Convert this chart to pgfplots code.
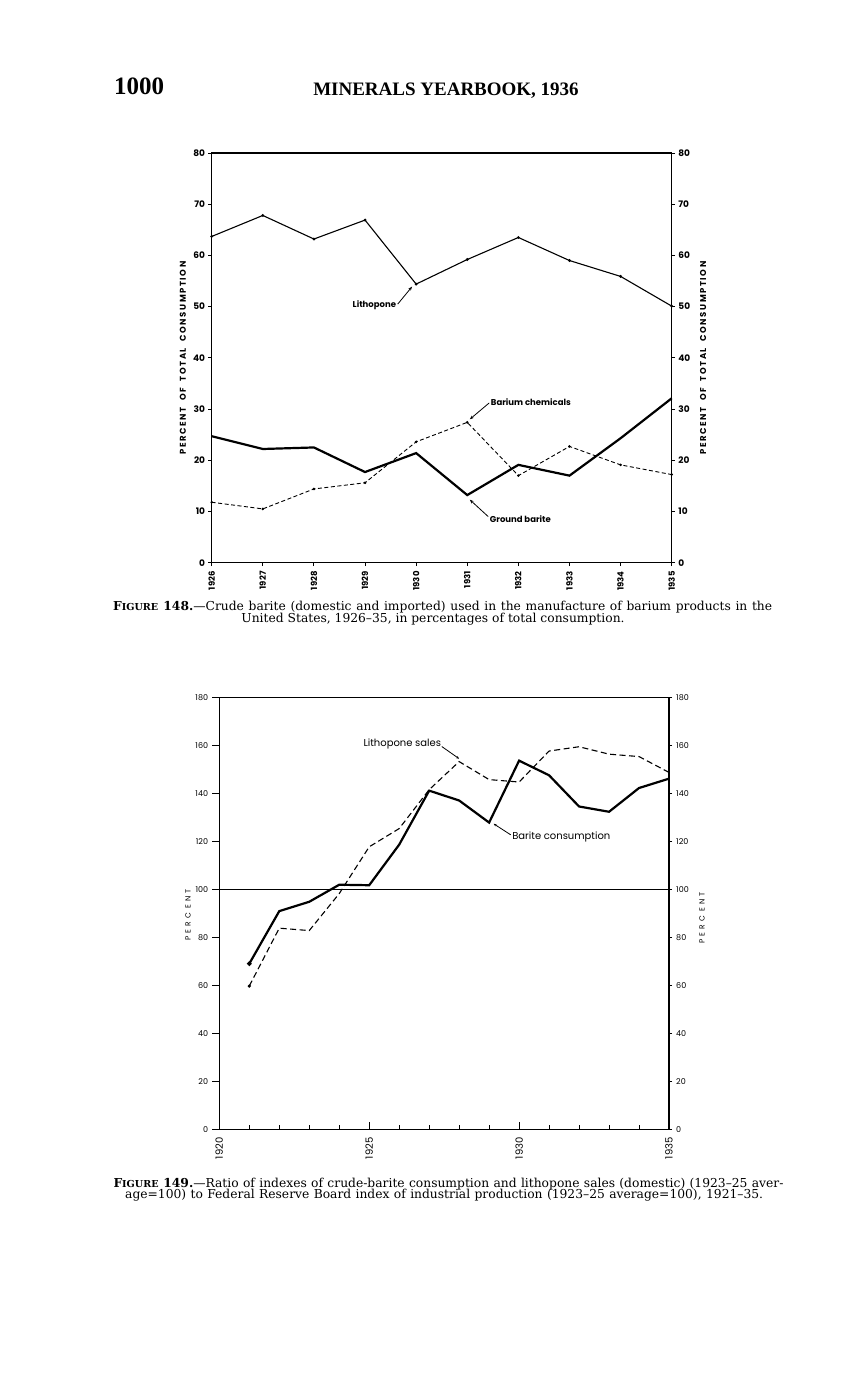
\documentclass[border=0pt]{standalone}
\usepackage{pgfplots}
\pgfplotsset{compat=1.18}
\usetikzlibrary{arrows.meta}
\usepackage{fontspec}
\setmainfont{Liberation Serif}
\newfontfamily\capfont[Ligatures=TeX]{DejaVu Serif}
\newfontfamily\lett{Poppins}
\newfontfamily\lettsp[LetterSpace=18]{Poppins}
\newfontfamily\lettwide[LetterSpace=45]{Poppins}
\newcommand\cf[1]{\lett\fontsize{#1}{#1}\selectfont}

\begin{document}
\begin{tikzpicture}[x=1pt,y=1pt]
\path[use as bounding box, fill=white] (0,0) rectangle (866,1380);

% page header
\node[anchor=base west, inner sep=0] at (114,1285) {\fontsize{25}{25}\selectfont\bfseries 1000};
\node[anchor=base, inner sep=0] at (446,1284) {\fontsize{19}{19}\selectfont\bfseries MINERALS YEARBOOK, 1936};

% ---------- Figure 148 ----------
\begin{axis}[
  at={(211.7pt,817.3pt)}, anchor=south west,
  scale only axis, width=460pt, height=409.7pt,
  xmin=1926, xmax=1935, ymin=0, ymax=80,
  xtick={1926,...,1935}, ytick={0,10,...,80},
  axis line style={line width=1.3pt},
  tick style={line width=0.9pt, black},
  tick align=outside, major tick length=3.5pt,
  xtick pos=bottom, ytick pos=left,
  xticklabel style={rotate=90, anchor=east, inner sep=0pt, font=\cf{8.5}\bfseries},
  xticklabel shift=5pt,
  yticklabel style={inner sep=0pt, font=\cf{9}\bfseries},
  yticklabel shift=3pt,
  /pgf/number format/1000 sep={},
  /pgf/number format/assume math mode=true,
  clip=false,
]
\addplot[line width=1.1pt, mark=*, mark size=0.8pt] coordinates {(1926,63.7)(1927,67.8)(1928,63.2)(1929,66.9)(1930,54.4)(1931,59.2)(1932,63.5)(1933,59.0)(1934,55.9)(1935,50.1)};
\addplot[line width=2.2pt] coordinates {(1926,24.7)(1927,22.2)(1928,22.5)(1929,17.7)(1930,21.4)(1931,13.2)(1932,19.1)(1933,17.0)(1934,24.3)(1935,32.1)};
\addplot[line width=0.9pt, dash pattern=on 4pt off 2.5pt, mark=*, mark size=0.8pt, mark options={solid}] coordinates {(1926,11.8)(1927,10.5)(1928,14.4)(1929,15.6)(1930,23.6)(1931,27.4)(1932,17.0)(1933,22.7)(1934,19.1)(1935,17.2)};
\node[anchor=east, inner sep=0.5pt, font=\cf{8.5}\bfseries] at (axis cs:1929.62,50.2) {Lithopone};
\draw[line width=0.8pt, -{Stealth[length=4pt,width=3pt]}] (axis cs:1929.64,50.5) -- (axis cs:1929.92,53.9);
\node[anchor=west, inner sep=0.5pt, font=\cf{8.5}\bfseries] at (axis cs:1931.45,31.4) {Barium chemicals};
\draw[line width=0.8pt, -{Stealth[length=4pt,width=3pt]}] (axis cs:1931.43,31.2) -- (axis cs:1931.05,28.0);
\node[anchor=west, inner sep=0.5pt, font=\cf{8.5}\bfseries] at (axis cs:1931.43,8.5) {Ground barite};
\draw[line width=0.8pt, -{Stealth[length=4pt,width=3pt]}] (axis cs:1931.41,9.0) -- (axis cs:1931.05,12.3);
\end{axis}
\begin{axis}[
  at={(211.7pt,817.3pt)}, anchor=south west,
  scale only axis, width=460pt, height=409.7pt,
  xmin=1926, xmax=1935, ymin=0, ymax=80,
  ytick={0,10,...,80},
  hide x axis, axis y line*=right,
  axis line style={draw=none},
  tick style={line width=0.9pt, black},
  tick align=outside, major tick length=3.5pt,
  yticklabel style={inner sep=0pt, font=\cf{9}\bfseries},
  yticklabel shift=3pt,
  /pgf/number format/assume math mode=true,
]
\end{axis}
\node[rotate=90, inner sep=0, font=\lettsp\fontsize{8.5}{8.5}\selectfont\bfseries] at (183,1022) {\makebox[193pt][s]{PERCENT OF TOTAL CONSUMPTION}};
\node[rotate=90, inner sep=0, font=\lettsp\fontsize{8.5}{8.5}\selectfont\bfseries] at (703,1022) {\makebox[193pt][s]{PERCENT OF TOTAL CONSUMPTION}};

% caption 148
\node[anchor=base west, inner sep=0] at (113,769) {\capfont\fontsize{12.3}{11.5}\selectfont\makebox[659pt][s]{\textbf{F{\fontsize{9.6}{10}\selectfont IGURE} 148.}—Crude barite (domestic and imported) used in the manufacture of barium products in the}};
\node[anchor=base, inner sep=0] at (433,757.5) {\capfont\fontsize{12.3}{11.5}\selectfont United States, 1926–35, in percentages of total consumption.};

% ---------- Figure 149 ----------
\begin{axis}[
  at={(219.3pt,250.7pt)}, anchor=south west,
  scale only axis, width=449.7pt, height=432pt,
  xmin=1920, xmax=1935, ymin=0, ymax=180,
  xtick={1920,1925,1930,1935}, minor xtick={1921,1922,1923,1924,1926,1927,1928,1929,1931,1932,1933,1934},
  ytick={0,20,...,180},
  axis line style={line width=1.3pt},
  xtick style={line width=1pt, black},
  ytick style={line width=0.8pt, black},
  xtick align=inside, ytick align=outside,
  major x tick style={line width=1.2pt},
  major tick length=7pt, minor tick length=4.5pt,
  xtick pos=bottom, ytick pos=left,
  xticklabel style={rotate=90, anchor=east, inner sep=0pt, font=\cf{10}},
  xticklabel shift=8pt,
  yticklabel style={inner sep=0pt, font=\cf{8}},
  yticklabel shift=4pt,
  /pgf/number format/1000 sep={},
  /pgf/number format/assume math mode=true,
  clip=false,
]
\addplot[line width=1.5pt] coordinates {(1920,100)(1935,100)};
\addplot[line width=2.2pt, mark=*, mark size=1pt, mark indices={1}] coordinates {(1921,69)(1922,90.9)(1923,94.8)(1924,101.9)(1925,101.7)(1926,118.6)(1927,141.1)(1928,137.0)(1929,127.8)(1930,153.6)(1931,147.5)(1932,134.5)(1933,132.3)(1934,142.2)(1935,146.1)};
\addplot[line width=1.1pt, dash pattern=on 6pt off 3.5pt, mark=*, mark size=1pt, mark indices={1}, mark options={solid}] coordinates {(1921,59.7)(1922,83.8)(1923,82.8)(1924,98.2)(1925,117.7)(1926,125.3)(1927,141.5)(1928,153.2)(1929,145.7)(1930,144.7)(1931,157.6)(1932,159.4)(1933,156.3)(1934,155.3)(1935,148.7)};
\node[anchor=east, inner sep=0.5pt, font=\cf{10}] at (axis cs:1927.42,160.6) {Lithopone sales};
\draw[line width=0.8pt, -{Stealth[length=3pt,width=2.5pt]}] (axis cs:1927.42,159.5) -- (axis cs:1928.0,154.4);
\node[anchor=west, inner sep=0.5pt, font=\cf{10}] at (axis cs:1929.75,121.6) {Barite consumption};
\draw[line width=0.8pt, -{Stealth[length=3pt,width=2.5pt]}] (axis cs:1929.72,122.7) -- (axis cs:1929.15,127.3);
\end{axis}
\begin{axis}[
  at={(219.3pt,250.7pt)}, anchor=south west,
  scale only axis, width=449.7pt, height=432pt,
  xmin=1920, xmax=1935, ymin=0, ymax=180,
  ytick={0,20,...,180},
  hide x axis, axis y line*=right,
  axis line style={draw=none},
  ytick style={line width=0.8pt, black},
  tick align=outside, major tick length=3pt,
  yticklabel style={inner sep=0pt, font=\cf{8}},
  yticklabel shift=4pt,
  /pgf/number format/assume math mode=true,
]
\end{axis}
\node[rotate=90, inner sep=0, font=\lettwide\fontsize{7.5}{7.5}\selectfont] at (188,465) {PERCENT};
\node[rotate=90, inner sep=0, font=\lettwide\fontsize{7.5}{7.5}\selectfont] at (702,462) {PERCENT};

% caption 149
\node[anchor=base west, inner sep=0] at (113.3,192.7) {\capfont\fontsize{12.3}{11.5}\selectfont\makebox[670pt][s]{\textbf{F{\fontsize{9.6}{10}\selectfont IGURE} 149.}—Ratio of indexes of crude-barite consumption and lithopone sales (domestic) (1923–25 aver-}};
\node[anchor=base west, inner sep=0] at (125,181.7) {\capfont\fontsize{12.3}{11.5}\selectfont\makebox[638pt][s]{age=100) to Federal Reserve Board index of industrial production (1923–25 average=100), 1921–35.}};
\end{tikzpicture}
\end{document}
